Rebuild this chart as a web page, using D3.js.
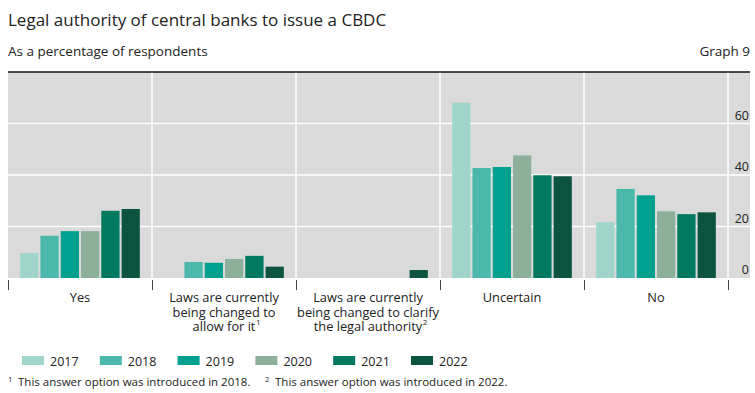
<!DOCTYPE html>
<html>
<head>
<meta charset="utf-8">
<script src="https://cdn.jsdelivr.net/npm/d3@7"></script>
<style>
  body { margin: 0; background: #fff; }
  text { font-family: "Open Sans", sans-serif; fill: #222; }
</style>
</head>
<body>
<script>
// Données
const categories = ['Yes', 'Laws allow', 'Laws clarify', 'Uncertain', 'No'];
const categoryLabels = [
  ['Yes'],
  ['Laws are currently', 'being changed to', 'allow for it'],
  ['Laws are currently', 'being changed to clarify', 'the legal authority'],
  ['Uncertain'],
  ['No']
];
const labelNotes = [null, '1', '2', null, null];
const years = ['2017', '2018', '2019', '2020', '2021', '2022'];
const v2017 = [9.7, null, null, 68.1, 21.7];
const v2018 = [16.4, 6.2, null, 42.7, 34.6];
const v2019 = [18.2, 5.9, null, 43.1, 32.1];
const v2020 = [18.2, 7.4, null, 47.6, 25.9];
const v2021 = [26.1, 8.6, null, 39.9, 24.8];
const v2022 = [26.8, 4.4, 3.1, 39.5, 25.5];
const yTicks = [0, 20, 40, 60];
const colors = ['#a0d5cc', '#4ab8ab', '#00a08e', '#8db09b', '#007a5f', '#0c5340'];

const series = [v2017, v2018, v2019, v2020, v2021, v2022];

// Paramètres
const width = 755;
const height = 393;
const margin = { top: 72, right: 27, bottom: 115, left: 8 };
const plotRight = 750;

const svg = d3.select('body')
  .append('svg')
  .attr('width', width)
  .attr('height', height);

// Titres
svg.append('text')
  .attr('x', 8).attr('y', 26)
  .style('font-size', '17px')
  .text('Legal authority of central banks to issue a CBDC');

svg.append('text')
  .attr('x', 8).attr('y', 56)
  .style('font-size', '13.5px')
  .text('As a percentage of respondents');

svg.append('text')
  .attr('x', plotRight).attr('y', 56)
  .attr('text-anchor', 'end')
  .style('font-size', '13.5px')
  .text('Graph 9');

// Échelles
const x = d3.scaleBand()
  .domain(categories)
  .range([margin.left, width - margin.right]);

const xYear = d3.scaleBand()
  .domain(years)
  .range([0, x.bandwidth()])
  .paddingInner(0.1)
  .paddingOuter(0.6);

const y = d3.scaleLinear()
  .domain([0, 80])
  .range([height - margin.bottom, margin.top]);

const color = d3.scaleOrdinal().domain(years).range(colors);

// Fond
svg.append('rect')
  .attr('x', margin.left)
  .attr('y', y(80))
  .attr('width', plotRight - margin.left)
  .attr('height', y(0) - y(80))
  .attr('fill', '#dadada');

// Grille horizontale
svg.append('g')
  .selectAll('line')
  .data(yTicks.filter(d => d > 0))
  .enter()
  .append('line')
  .attr('x1', margin.left)
  .attr('x2', plotRight)
  .attr('y1', d => y(d))
  .attr('y2', d => y(d))
  .attr('stroke', '#fff')
  .attr('stroke-width', 1.5);

// Séparateurs verticaux
const bounds = categories.slice(1).map(c => x(c)).concat([x.range()[1]]);
svg.append('g')
  .selectAll('line')
  .data(bounds)
  .enter()
  .append('line')
  .attr('x1', d => d).attr('x2', d => d)
  .attr('y1', y(80)).attr('y2', y(0))
  .attr('stroke', '#fff')
  .attr('stroke-width', 1.5);

// Ligne du haut
svg.append('line')
  .attr('x1', margin.left).attr('x2', plotRight)
  .attr('y1', y(80)).attr('y2', y(80))
  .attr('stroke', '#111')
  .attr('stroke-width', 1.5);

// Barres
const flat = [];
categories.forEach((c, i) => {
  years.forEach((yr, j) => {
    if (series[j][i] != null) flat.push({ cat: c, year: yr, value: series[j][i] });
  });
});

svg.append('g')
  .selectAll('rect')
  .data(flat)
  .enter()
  .append('rect')
  .attr('x', d => x(d.cat) + xYear(d.year))
  .attr('width', xYear.bandwidth())
  .attr('y', d => y(d.value))
  .attr('height', d => y(0) - y(d.value))
  .attr('fill', d => color(d.year));

// Axe vertical (à droite)
svg.append('g')
  .selectAll('text')
  .data(yTicks)
  .enter()
  .append('text')
  .attr('x', plotRight - 1)
  .attr('y', d => y(d) - 4)
  .attr('text-anchor', 'end')
  .style('font-size', '12.5px')
  .text(d => d);

// Axe horizontal : graduations
const tickPos = [margin.left].concat(bounds);
svg.append('g')
  .selectAll('line')
  .data(tickPos)
  .enter()
  .append('line')
  .attr('x1', d => d + 0.5).attr('x2', d => d + 0.5)
  .attr('y1', y(0) + 2).attr('y2', y(0) + 12)
  .attr('stroke', '#444')
  .attr('stroke-width', 1);

// Libellés des catégories (une ligne = un texte)
const lineH = 14.5;
const catG = svg.append('g');
categories.forEach((c, i) => {
  const cx = x(c) + x.bandwidth() / 2;
  const lines = categoryLabels[i];
  lines.forEach((l, k) => {
    const ty = y(0) + 24 + k * lineH;
    const t = catG.append('text')
      .attr('x', cx)
      .attr('y', ty)
      .attr('text-anchor', 'middle')
      .style('font-size', '12.8px')
      .text(l);
    if (k === lines.length - 1 && labelNotes[i]) {
      const w = t.node().getComputedTextLength();
      catG.append('text')
        .attr('x', cx + w / 2 + 0.5)
        .attr('y', ty - 6)
        .style('font-size', '8px')
        .text(labelNotes[i]);
    }
  });
});

// Légende
const legend = svg.append('g')
  .selectAll('g')
  .data(years)
  .enter()
  .append('g')
  .attr('transform', (d, i) => `translate(${22 + i * 77.8}, 356)`);

legend.append('rect')
  .attr('width', 22)
  .attr('height', 9)
  .attr('fill', d => color(d));

legend.append('text')
  .attr('x', 28)
  .attr('y', 9.5)
  .style('font-size', '12.5px')
  .text(d => d);

// Notes
const notes = [
  ['1', 'This answer option was introduced in 2018.', 8],
  ['2', 'This answer option was introduced in 2022.', 265]
];
const n = svg.append('g')
  .selectAll('g')
  .data(notes)
  .enter()
  .append('g');

n.append('text')
  .attr('x', d => d[2])
  .attr('y', 382)
  .style('font-size', '7.5px')
  .text(d => d[0]);

n.append('text')
  .attr('x', d => d[2] + 10)
  .attr('y', 386)
  .style('font-size', '11.5px')
  .text(d => d[1]);
</script>
</body>
</html>
